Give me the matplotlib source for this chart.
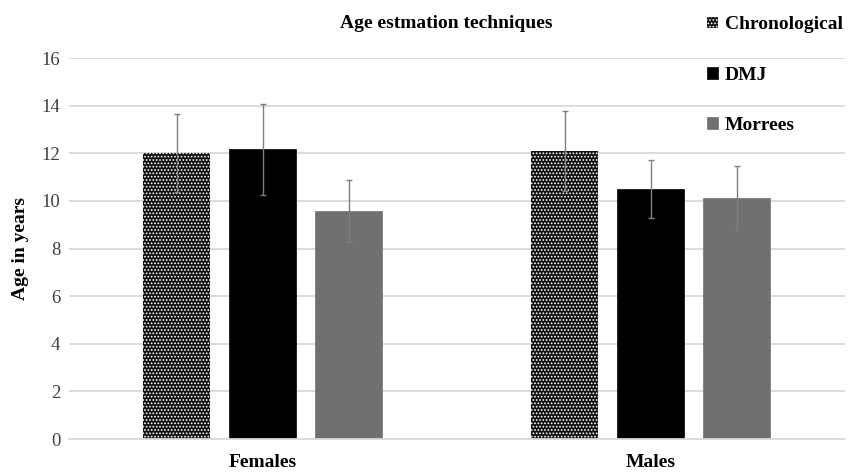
import numpy as np
import matplotlib
matplotlib.use("Agg")
import matplotlib.pyplot as plt

plt.rcParams['font.family'] = ['Liberation Serif', 'DejaVu Serif']
plt.rcParams['hatch.linewidth'] = 0.8

groups = ["Females", "Males"]
techniques = ["Chronological", "DMJ", "Morrees"]
means = {
    "Chronological": [12.02, 12.10],
    "DMJ": [12.17, 10.50],
    "Morrees": [9.58, 10.12],
}
errors = {
    "Chronological": [1.63, 1.68],
    "DMJ": [1.92, 1.20],
    "Morrees": [1.30, 1.35],
}
yticks = [0, 2, 4, 6, 8, 10, 12, 14, 16]

fig = plt.figure(figsize=(8.5, 4.72), dpi=100)
ax = fig.add_axes([0.0808, 0.0699, 0.913, 0.807])

x = np.arange(len(groups))
width = 0.173
pitch = 0.222
styles = {
    "Chronological": dict(color="#111111", hatch=".....", edgecolor="white", linewidth=0),
    "DMJ": dict(color="black", edgecolor="black", linewidth=0.5),
    "Morrees": dict(color="#707070", edgecolor="#707070", linewidth=0.5),
}

for i, t in enumerate(techniques):
    pos = x + (i - 1) * pitch
    ax.bar(pos, means[t], width, label=t, zorder=2, **styles[t])
    ax.errorbar(pos, means[t], yerr=errors[t], fmt="none", ecolor="#7f7f7f",
                elinewidth=1.0, capsize=2.5, capthick=1.0, zorder=3)

ax.set_xlim(-0.5, 1.5)
ax.set_ylim(0, 16)
ax.set_yticks(yticks)
ax.set_yticklabels([str(v) for v in yticks], fontsize=13.5, color="#404040")
ax.set_xticks(x)
ax.set_xticklabels(groups, fontsize=14, fontweight="bold")
ax.tick_params(axis="y", length=0, pad=6)
ax.tick_params(axis="x", length=0, pad=11)
ax.grid(axis="y", color="#d9d9d9", linewidth=1.3, zorder=0)
for s in ["top", "right", "left"]:
    ax.spines[s].set_visible(False)
ax.spines["bottom"].set_color("#d9d9d9")
ax.spines["bottom"].set_linewidth(1.3)
ax.set_ylabel("Age in years", fontsize=14, fontweight="bold", labelpad=9)

fig.text(0.525, 0.951, "Age estmation techniques", ha="center", va="center",
         fontsize=14, fontweight="bold")

leg = ax.legend(loc="upper left", bbox_to_anchor=(0.823, 0.982),
                bbox_transform=fig.transFigure, frameon=False,
                prop=dict(size=14, weight="bold"), handlelength=0.55,
                handleheight=0.55, handletextpad=0.35, labelspacing=1.72,
                borderaxespad=0)

fig.savefig("out.png", dpi=100)
